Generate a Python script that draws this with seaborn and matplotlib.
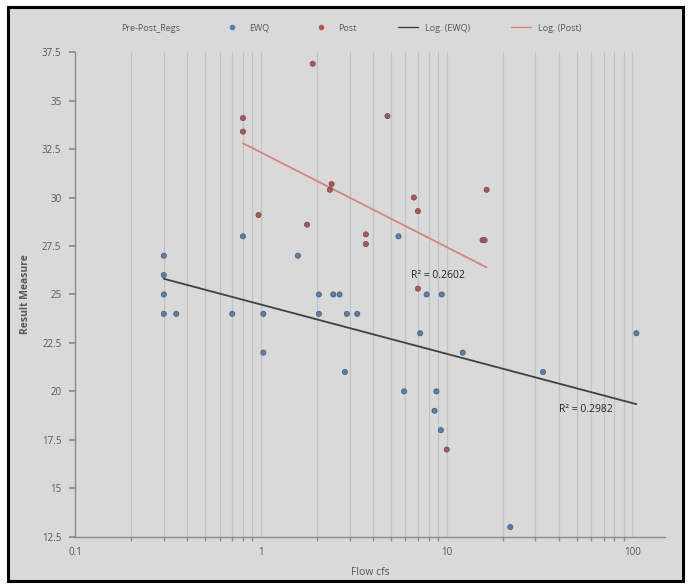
#!/usr/bin/env python3
"""Flow vs result measure, pre/post regs, log trendlines."""
import matplotlib.pyplot as plt
import matplotlib.patches as mpatches
from matplotlib.lines import Line2D
from matplotlib.ticker import FixedLocator, LogLocator, NullFormatter
import numpy as np
import pandas as pd
import seaborn as sns

# EWQ (pre) samples
ewq_flow = [0.3, 0.3, 0.3, 0.3, 0.35, 0.7, 0.8, 1.03, 1.03, 1.58, 2.05, 2.05,
            2.45, 2.65, 2.9, 3.3, 2.83, 5.5, 7.2, 7.8, 9.4, 12.2, 33, 105,
            5.9, 8.8, 8.6, 9.3, 22]
ewq_result = [27, 26, 25, 24, 24, 24, 28, 24, 22, 27, 25, 24,
              25, 25, 24, 24, 21, 28, 23, 25, 25, 22, 21, 23,
              20, 20, 19, 18, 13]

# Post samples
post_flow = [0.8, 0.8, 1.9, 0.97, 1.77, 2.35, 2.4, 3.67, 3.67, 4.8, 6.65,
             7.0, 7.0, 16.4, 15.6, 16.0, 10.0]
post_result = [34.1, 33.4, 36.9, 29.1, 28.6, 30.4, 30.7, 28.1, 27.6, 34.2, 30.0,
               29.3, 25.3, 30.4, 27.8, 27.8, 17.0]

r2_labels = {"EWQ": "R² = 0.2982", "Post": "R² = 0.2602"}
y_ticks = [12.5, 15, 17.5, 20, 22.5, 25, 27.5, 30, 32.5, 35, 37.5]
y_labels = ["12.5", "15", "17.5", "20", "22.5", "25", "27.5", "30", "32.5", "35", "37.5"]
x_labels = ["0.1", "1", "10", "100"]

BG = "#d9d9d9"
TXT = "#595959"
COLORS = {"EWQ": "#4f81bd", "Post": "#c0504d"}
LINE_COLORS = {"EWQ": "#404040", "Post": "#d9827f"}

sns.set_theme(style="white")
plt.rcParams["font.family"] = ["Open Sans", "DejaVu Sans"]

df = pd.concat([
    pd.DataFrame({"flow": ewq_flow, "result": ewq_result, "group": "EWQ"}),
    pd.DataFrame({"flow": post_flow, "result": post_result, "group": "Post"}),
], ignore_index=True)

fig = plt.figure(figsize=(6.9, 5.86), dpi=100, facecolor="white")
fig.patches.append(mpatches.Rectangle((0.012, 0.008), 0.978, 0.98, transform=fig.transFigure,
                                      facecolor=BG, edgecolor="black", linewidth=2.2, zorder=-1))
ax = fig.add_axes([0.109, 0.084, 0.855, 0.827])
ax.set_facecolor(BG)

sns.scatterplot(data=df, x="flow", y="result", hue="group", palette=COLORS, ax=ax,
                s=14, edgecolor="#555555", linewidth=0.5, legend=False, zorder=3)

# logarithmic trendlines, Excel style: y = a*ln(x) + b
for grp, sub in df.groupby("group"):
    a, b = np.polyfit(np.log(sub["flow"]), sub["result"], 1)
    xs = np.array([sub["flow"].min(), sub["flow"].max()])
    ax.plot(xs, a * np.log(xs) + b, color=LINE_COLORS[grp], linewidth=1.3, zorder=2)

ax.text(40, 18.95, r2_labels["EWQ"], fontsize=7.5, color="#262626")
ax.text(6.4, 25.85, r2_labels["Post"], fontsize=7.5, color="#262626")

ax.set_xscale("log")
ax.set_xlim(0.1, 150)
ax.set_ylim(12.5, 37.5)
ax.xaxis.set_major_locator(FixedLocator([0.1, 1, 10, 100]))
ax.set_xticklabels(x_labels)
ax.xaxis.set_minor_locator(LogLocator(base=10, subs=np.arange(2, 10)))
ax.xaxis.set_minor_formatter(NullFormatter())
ax.set_yticks(y_ticks)
ax.set_yticklabels(y_labels)

ax.grid(True, which="both", axis="x", color="#c2c2c2", linewidth=0.9)
ax.grid(False, axis="y")
ax.set_axisbelow(True)
for side in ("top", "right"):
    ax.spines[side].set_visible(False)
for side in ("left", "bottom"):
    ax.spines[side].set_color("#8c8c8c")
    ax.spines[side].set_linewidth(1.0)
ax.tick_params(axis="both", which="major", length=4, color="#8c8c8c",
               labelsize=7, labelcolor=TXT, direction="out")
ax.tick_params(axis="x", which="minor", length=3, color="#8c8c8c", bottom=True)
ax.tick_params(axis="y", left=True, pad=6)

ax.set_xlabel("Flow cfs", fontsize=7.5, color=TXT, labelpad=6)
ax.set_ylabel("Result Measure", fontsize=7.5, color=TXT, fontweight="bold", labelpad=8)

handles = [
    Line2D([], [], linestyle="none", marker=None),
    Line2D([], [], linestyle="none", marker="o", markersize=3, color=COLORS["EWQ"]),
    Line2D([], [], linestyle="none", marker="o", markersize=3, color=COLORS["Post"]),
    Line2D([], [], color=LINE_COLORS["EWQ"], linewidth=1.0),
    Line2D([], [], color=LINE_COLORS["Post"], linewidth=1.0),
]
labels = ["Pre-Post_Regs", "EWQ", "Post", "Log. (EWQ)", "Log. (Post)"]
leg = fig.legend(handles, labels, loc="center", bbox_to_anchor=(0.49, 0.952), ncol=5,
                 frameon=False, fontsize=6.5, handlelength=2.2, columnspacing=4.6,
                 handletextpad=0.8)
for t in leg.get_texts():
    t.set_color(TXT)

fig.savefig("out.png", dpi=100, facecolor=fig.get_facecolor())
